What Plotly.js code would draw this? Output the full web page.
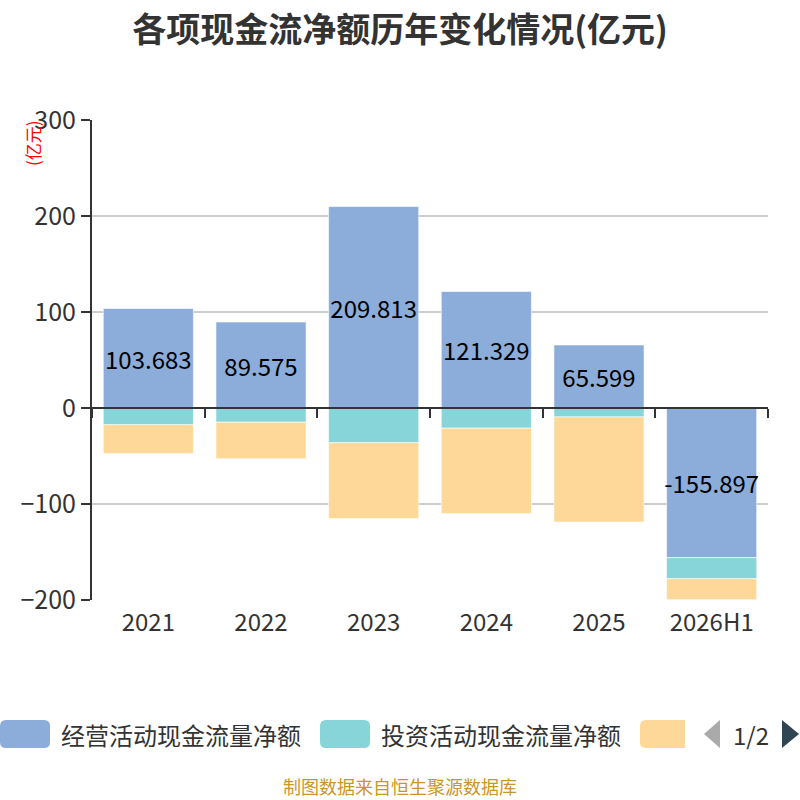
<!DOCTYPE html>
<html>
<head>
<meta charset="utf-8">
<script src="https://cdn.plot.ly/plotly-3.0.1.min.js"></script>
<style>
  html, body { margin: 0; padding: 0; background: #fff; }
  #chart { width: 800px; height: 800px; }
</style>
</head>
<body>
<div id="chart"></div>
<script>
// data (亿元)
const years = ['2021', '2022', '2023', '2024', '2025', '2026H1'];
const operating = [103.683, 89.575, 209.813, 121.329, 65.599, -155.897];
const investing = [-17.5, -14.8, -36.2, -21.0, -9.3, -22.0];
const financing = [-30.0, -38.0, -79.0, -89.0, -109.5, -21.8];
const seriesNames = ['经营活动现金流量净额', '投资活动现金流量净额', '筹资活动现金流量净额'];
const seriesColors = ['#8cacda', '#87d5d8', '#fed899'];
const yTicks = [-200, -100, 0, 100, 200, 300];

const font = '"Noto Sans CJK SC", "Noto Sans", sans-serif';

let bar = (y, i, withText) => ({
    type: 'bar',
    x: years,
    y: y,
    name: seriesNames[i],
    marker: { color: seriesColors[i], line: { color: 'rgba(255,255,255,0.6)', width: 1 } },
    text: withText ? y.map(v => v.toFixed(3)) : undefined,
    texttemplate: withText ? '%{text}' : undefined,
    textposition: withText ? 'inside' : 'none',
    insidetextanchor: 'middle',
    textangle: 0,
    constraintext: 'none',
    textfont: { color: '#000', size: 24, family: font },
    hoverinfo: 'x+y+name',
    showlegend: false
});

let dataDraw = [bar(operating, 0, true), bar(investing, 1, false), bar(financing, 2, false)];

// zero-line axis with ticks between categories
dataDraw.push({
    type: 'scatter', x: years, y: years.map(() => 0), xaxis: 'x2', yaxis: 'y',
    mode: 'none', hoverinfo: 'skip', showlegend: false
});

// plot domain is x 92..768 px -> paper = (px - 92) / 676 ; y 120..600 px -> paper = (600 - px) / 480
let px = v => (v - 92) / 676;
let py = v => (600 - v) / 480;

// hand-drawn paged legend like the original
function swatch(x0, x1, color, clipRight) {
    const y0 = py(720), y1 = py(748), rx = 6 / 676, ry = 6 / 480;
    let p = `M${x0 + rx},${y0} `;
    if (clipRight) p += `L${x1},${y0} L${x1},${y1} `;
    else p += `L${x1 - rx},${y0} Q${x1},${y0} ${x1},${y0 - ry} L${x1},${y1 + ry} Q${x1},${y1} ${x1 - rx},${y1} `;
    p += `L${x0 + rx},${y1} Q${x0},${y1} ${x0},${y1 + ry} L${x0},${y0 - ry} Q${x0},${y0} ${x0 + rx},${y0} Z`;
    return { type: 'path', xref: 'paper', yref: 'paper', path: p, fillcolor: color, line: { width: 0 } };
}
let shapes = [
    swatch(px(0), px(50), seriesColors[0], false),
    swatch(px(320), px(370), seriesColors[1], false),
    swatch(px(640), px(685), seriesColors[2], true)
];
// page arrows
shapes.push({ type: 'path', xref: 'paper', yref: 'paper',
    path: `M${px(720)},${py(720)} L${px(720)},${py(748)} L${px(704)},${py(734)} Z`,
    fillcolor: '#aaaaaa', line: { width: 0 } });
shapes.push({ type: 'path', xref: 'paper', yref: 'paper',
    path: `M${px(782)},${py(720)} L${px(782)},${py(748)} L${px(799)},${py(734)} Z`,
    fillcolor: '#2f4554', line: { width: 0 } });

let legendY = py(734);
let annotations = [];
annotations.push({ xref: 'paper', yref: 'paper', x: px(59), y: legendY, xanchor: 'left', yanchor: 'middle',
    text: seriesNames[0], showarrow: false, font: { size: 24, color: '#333', family: font } });
annotations.push({ xref: 'paper', yref: 'paper', x: px(379), y: legendY, xanchor: 'left', yanchor: 'middle',
    text: seriesNames[1], showarrow: false, font: { size: 24, color: '#333', family: font } });
annotations.push({ xref: 'paper', yref: 'paper', x: px(751), y: legendY, xanchor: 'center', yanchor: 'middle',
    text: '1/2', showarrow: false, font: { size: 24, color: '#333', family: font } });
annotations.push({ xref: 'paper', yref: 'paper', x: px(400), y: py(786), xanchor: 'center', yanchor: 'middle',
    text: '制图数据来自恒生聚源数据库', showarrow: false, font: { size: 18, color: '#c8962a', family: font } });
annotations.push({ xref: 'paper', yref: 'paper', x: px(32), y: py(118), xanchor: 'center', yanchor: 'top',
    text: '(亿元)', textangle: -90, showarrow: false, font: { size: 17, color: '#ff0000', family: font } });

let layout = {
    width: 800,
    height: 800,
    margin: { l: 92, r: 32, t: 120, b: 200 },
    paper_bgcolor: '#fff',
    plot_bgcolor: '#fff',
    font: { family: font, color: '#333' },
    title: {
        text: '<b>各项现金流净额历年变化情况(亿元)</b>',
        x: 0.5, xanchor: 'center', y: 1 - 30 / 800, yanchor: 'middle',
        font: { size: 34, color: '#333', family: font }
    },
    barmode: 'relative',
    bargap: 0.2,
    showlegend: false,
    xaxis: {
        type: 'category',
        showline: false,
        showgrid: false,
        zeroline: false,
        ticks: '',
        tickfont: { size: 24, color: '#333' },
        ticklabelstandoff: 6,
        fixedrange: true
    },
    xaxis2: {
        type: 'category',
        overlaying: 'x',
        matches: 'x',
        anchor: 'free',
        position: py(408),
        side: 'bottom',
        showline: true,
        linecolor: '#333',
        linewidth: 2,
        ticks: 'outside',
        tickson: 'boundaries',
        ticklen: 9,
        tickwidth: 2,
        tickcolor: '#333',
        showticklabels: false,
        showgrid: false,
        zeroline: false
    },
    yaxis: {
        range: [-200, 300],
        tickvals: yTicks,
        showline: true,
        linecolor: '#333',
        linewidth: 2,
        ticks: 'outside',
        ticklen: 9,
        tickwidth: 2,
        tickcolor: '#333',
        showgrid: true,
        gridcolor: '#cccccc',
        gridwidth: 2,
        zeroline: false,
        tickfont: { size: 25, color: '#333' },
        fixedrange: true
    },
    shapes: shapes,
    annotations: annotations
};

Plotly.newPlot('chart', dataDraw, layout, { displayModeBar: false, staticPlot: true });
</script>
</body>
</html>
